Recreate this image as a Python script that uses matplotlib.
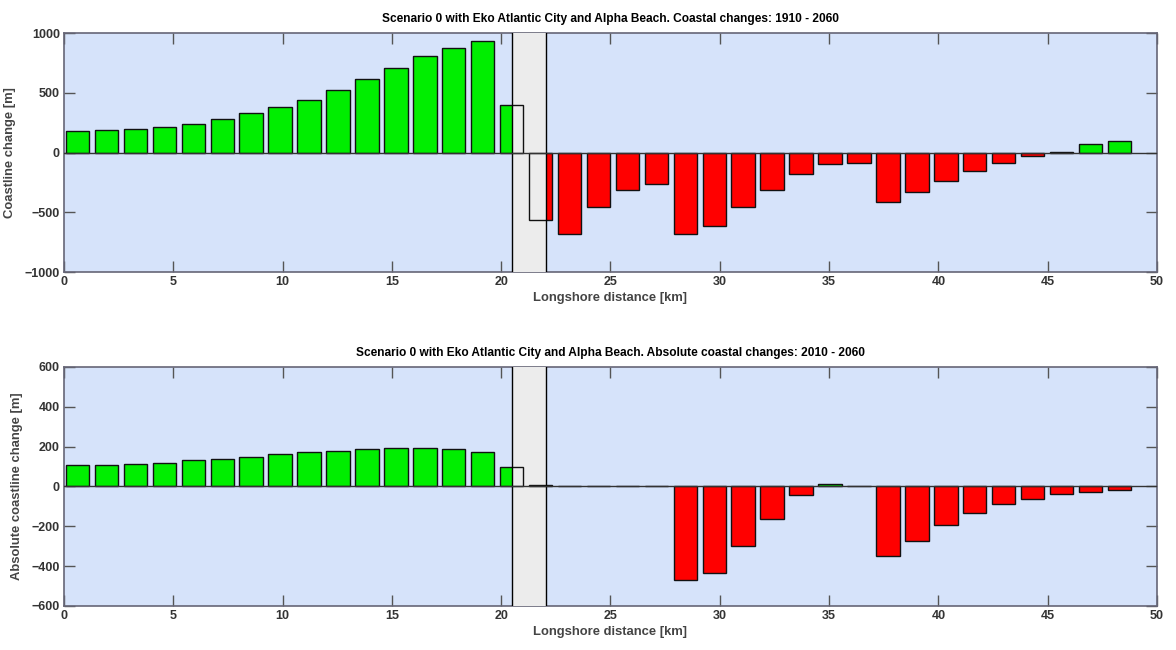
import numpy as np
import matplotlib
matplotlib.use("Agg")
import matplotlib.pyplot as plt
from matplotlib.patches import Rectangle
from matplotlib import font_manager

# Section centres along the shore [km]
n_sections = 37
section_start = 0.62
section_step = 1.324
positions = section_start + section_step * np.arange(n_sections)

# Coastline change 1910 - 2060 [m]
change_1910_2060 = [179, 190, 201, 212, 240, 282, 330, 380, 441, 522,
                    615, 704, 804, 874, 936, 400, -565, -679, -458, -316,
                    -265, -679, -617, -458, -316, -176, -95, -84, -416, -327,
                    -235, -156, -84, -33, 8, 70, 98]

# Absolute coastline change 2010 - 2060 [m]
change_2010_2060 = [107, 107, 113, 118, 132, 138, 150, 162, 173, 180,
                    187, 192, 192, 187, 173, 100, 5, 0, 0, 0,
                    0, -470, -435, -297, -165, -43, 12, 0, -350, -272,
                    -195, -133, -90, -62, -37, -27, -20]

# Reclaimed land (Eko Atlantic City) extent [km]
reclaim_start, reclaim_end = 20.5, 22.05

titles = ["Scenario 0 with Eko Atlantic City and Alpha Beach. Coastal changes: 1910 - 2060",
          "Scenario 0 with Eko Atlantic City and Alpha Beach. Absolute coastal changes: 2010 - 2060"]
ylabels = ["Coastline change [m]", "Absolute coastline change [m]"]
xlabel = "Longshore distance [km]"
ylims = [(-1000, 1000), (-600, 600)]
yticks = [[-1000, -500, 0, 500, 1000], [-600, -400, -200, 0, 200, 400, 600]]
xticks = [0, 5, 10, 15, 20, 25, 30, 35, 40, 45, 50]

names = {f.name for f in font_manager.fontManager.ttflist}
font = "Liberation Sans Narrow" if "Liberation Sans Narrow" in names else "Liberation Sans"
plt.rcParams["font.family"] = [font, "DejaVu Sans"]
plt.rcParams["font.weight"] = "bold"

BG = "#d6e3fa"
BAND = "#ececec"
GREEN = "#00ee00"
RED = "#ff0000"

fig = plt.figure(figsize=(11.76, 6.5), dpi=100)
axes = [fig.add_axes([0.0544, 0.5815, 0.9294, 0.3677]),
        fig.add_axes([0.0544, 0.0677, 0.9294, 0.3677])]

bar_width = 0.81 * section_step

for ax, vals, title, ylab, ylim, yt in zip(axes, [change_1910_2060, change_2010_2060],
                                          titles, ylabels, ylims, yticks):
    vals = np.asarray(vals, dtype=float)
    colors = [GREEN if v >= 0 else RED for v in vals]
    ax.set_facecolor(BG)

    # coloured bar fills
    ax.bar(positions, vals, width=bar_width, color=colors, edgecolor="none", zorder=2)
    # reclaimed area band drawn over the fills
    ax.add_patch(Rectangle((reclaim_start, ylim[0]), reclaim_end - reclaim_start,
                           ylim[1] - ylim[0], facecolor=BAND, edgecolor="none", zorder=3))
    # bar outlines on top
    ax.bar(positions, vals, width=bar_width, facecolor="none", edgecolor="#111111",
           linewidth=1.0, zorder=4)
    ax.axvline(reclaim_start, color="black", lw=1.0, zorder=5)
    ax.axvline(reclaim_end, color="black", lw=1.0, zorder=5)
    ax.axhline(0, color="#333333", lw=1.0, zorder=5)

    ax.set_xlim(0, 50)
    ax.set_ylim(*ylim)
    ax.set_xticks(xticks)
    ax.set_yticks(yt)
    ax.tick_params(direction="in", length=8, width=1, colors="#555555",
                   top=True, right=True, labelsize=9, pad=3)
    for lab in ax.get_xticklabels() + ax.get_yticklabels():
        lab.set_color("#333333")
        lab.set_fontweight("bold")
    for sp in ax.spines.values():
        sp.set_color("#666677")
        sp.set_linewidth(1.2)
    ax.set_title(title, fontsize=8.6, fontweight="bold", color="black", pad=8)
    ax.set_xlabel(xlabel, fontsize=9.4, fontweight="bold", color="#444444", labelpad=3)
    ax.set_ylabel(ylab, fontsize=9.4, fontweight="bold", color="#444444", labelpad=6)

fig.savefig("out.png", dpi=100)
